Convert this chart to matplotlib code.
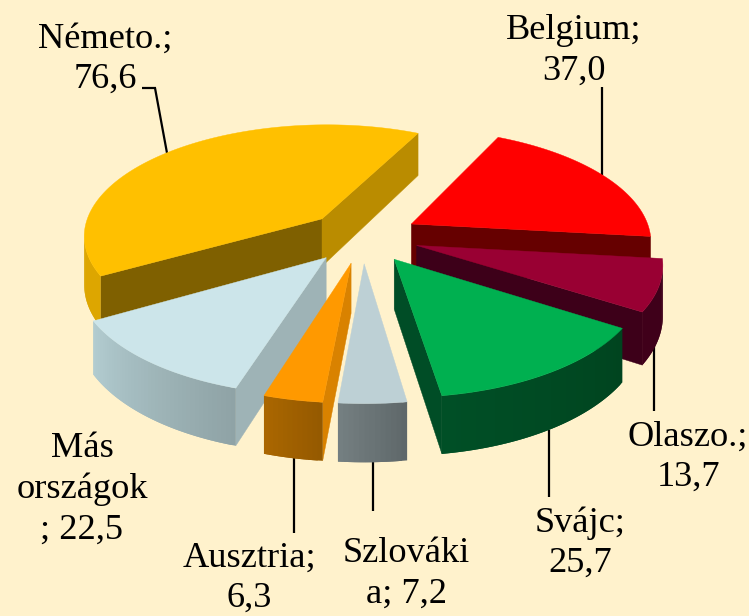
import matplotlib
matplotlib.use("Agg")
import matplotlib.pyplot as plt
from matplotlib.patches import Polygon
import numpy as np

plt.rcParams['font.family'] = ['Liberation Serif', 'DejaVu Serif']

# adatok
values = [37.0, 13.7, 25.7, 7.2, 6.3, 22.5, 76.6]
label_fmt = ["Belgium;\n{}", "Olaszo.;\n{}", "Svájc;\n{}", "Szlováki\na; {}",
             "Ausztria;\n{}", "Más\nországok\n; {}", "Németo.;\n{}"]

# kinezet
top_colors = ["#FF0000", "#990033", "#00B050", "#BDD0D5", "#FF9900", "#CCE5EA", "#FFC000"]
face0_colors = ["#660000", "#3D0019", "#00441F", "#5F686A", "#D98200", "#9EB3B6", "#7F6000"]
face1_colors = ["#660000", "#3D0019", "#004D26", "#5F686A", "#D98200", "#9EB3B6", "#BA8C00"]
rim0_colors = ["#660000", "#3D0019", "#00441F", "#5F686A", "#955A00", "#8FA3A6", "#DDA600"]
rim1_colors = ["#660000", "#40001A", "#004F26", "#747F81", "#AA6600", "#B2CCD0", "#DDA600"]
draw_order = [6, 0, 1, 2, 5, 4, 3]
label_pos = [(574, 51), (688, 457), (580, 543), (406, 574), (249, 578), (82, 489), (105, 59)]
leaders = [[(601.5, 87), (601.5, 175)],
           [(653.5, 335), (653.5, 411)],
           [(549, 430), (549, 497)],
           [(373, 455), (373, 511)],
           [(294, 455), (294, 533)],
           [],
           [(142, 88), (155, 88), (167, 153)]]

START = 26.0
CX, CY = 362.5, 236.5
R = 240.0
RATIO = 0.466
K = 0.14
EXPLODE = 0.236
H = 48.5


def project(u, v, up=True):
    w = 1 - K * v
    x = CX + R * u / w
    y = CY + R * RATIO * v / w
    if not up:
        y = y + H / w
    return x, y


def polar(theta):
    t = np.radians(theta)
    return np.sin(t), -np.cos(t)


def mix(c0, c1, t):
    a = np.array(matplotlib.colors.to_rgb(c0))
    b = np.array(matplotlib.colors.to_rgb(c1))
    return tuple(a + (b - a) * t)


def facing(pts):
    # csak a nezo fele allo lapokat rajzoljuk
    x = np.array([p[0] for p in pts])
    y = np.array([p[1] for p in pts])
    return np.dot(x, np.roll(y, -1)) - np.dot(y, np.roll(x, -1)) > 0


def draw_slice(ax, a0, a1, i):
    mid = (a0 + a1) / 2
    ou, ov = polar(mid)
    ou, ov = ou * EXPLODE, ov * EXPLODE
    angles = np.linspace(a0, a1, max(int(a1 - a0), 2) + 1)

    rim = [(ou + polar(a)[0], ov + polar(a)[1]) for a in angles]

    # sugar iranyu oldallapok
    for (u, v), col, rev in [(rim[0], face0_colors[i], False), (rim[-1], face1_colors[i], True)]:
        quad = [project(ou, ov), project(u, v), project(u, v, False), project(ou, ov, False)]
        if rev:
            quad = quad[::-1]
        if not facing(quad):
            ax.add_patch(Polygon(quad, closed=True, fc=col, ec=col, lw=0.3))

    # palast, szinatmenettel; a savok atfednek, hogy ne csikozzon
    for j in range(len(rim) - 1):
        u0, v0 = rim[j]
        u1, v1 = rim[j + 1]
        quad = [project(u0, v0), project(u1, v1), project(u1, v1, False), project(u0, v0, False)]
        if not facing(quad):
            u2, v2 = rim[min(j + 2, len(rim) - 1)]
            wide = [project(u0, v0), project(u1, v1), project(u2, v2),
                    project(u2, v2, False), project(u1, v1, False), project(u0, v0, False)]
            col = mix(rim0_colors[i], rim1_colors[i], j / max(len(rim) - 2, 1))
            ax.add_patch(Polygon(wide, closed=True, fc=col, ec="none", lw=0))

    top = [project(ou, ov)] + [project(u, v) for u, v in rim]
    ax.add_patch(Polygon(top, closed=True, fc=top_colors[i], ec=top_colors[i], lw=0.3))


fig = plt.figure(figsize=(7.49, 6.16), dpi=100, facecolor="#FFF2CC")
ax = fig.add_axes([0, 0, 1, 1])
ax.set_xlim(0, 749)
ax.set_ylim(616, 0)
ax.axis("off")

for pts in leaders:
    if pts:
        ax.plot([p[0] for p in pts], [p[1] for p in pts], color="black", lw=1.6,
                solid_capstyle="butt", solid_joinstyle="miter", zorder=0)

sweep = np.array(values) / sum(values) * 360
starts = START + np.concatenate([[0], np.cumsum(sweep)[:-1]])

for i in draw_order:
    draw_slice(ax, starts[i], starts[i] + sweep[i], i)

for i in range(len(values)):
    txt = label_fmt[i].format(f"{values[i]:.1f}".replace(".", ","))
    ax.text(label_pos[i][0], label_pos[i][1], txt, ha="center", va="center",
            fontsize=26.2, linespacing=1.3, color="black")

fig.savefig("out.png", dpi=100, facecolor=fig.get_facecolor())
